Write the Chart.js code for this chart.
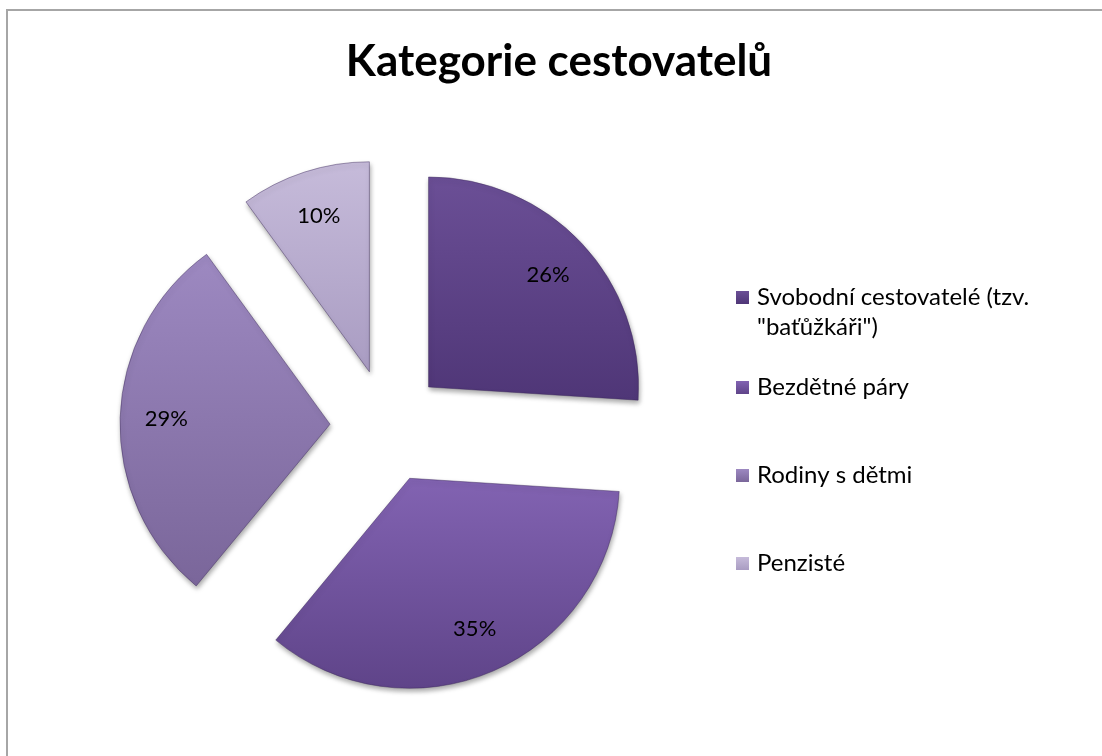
<!DOCTYPE html>
<html>
<head>
<meta charset="utf-8">
<script src="https://cdn.jsdelivr.net/npm/chart.js@4/dist/chart.umd.min.js"></script>
<style>
  html, body { margin: 0; padding: 0; background: #fff; overflow: hidden; }
  #obal { position: relative; width: 1102px; height: 756px; }
  #ramecek { position: absolute; left: 6px; top: 9px; width: 1110px; height: 760px; border: 2px solid #a6a6a6; box-sizing: border-box; }
  canvas { position: absolute; left: 0; top: 0; }
</style>
</head>
<body>
<div id="obal">
  <div id="ramecek"></div>
  <canvas id="kategorie" width="1102" height="756"></canvas>
</div>
<script>
// Kategorie cestovatelů - rozložený koláčový graf

const nadpis = "Kategorie cestovatelů";
const kategorie = ['Svobodní cestovatelé (tzv. "baťůžkáři")', "Bezdětné páry", "Rodiny s dětmi", "Penzisté"];
const podily = [26, 35, 29, 10]; // v procentech
const barvyHorni = ["#6b4f96", "#8263b2", "#9d89c1", "#c6bbda"];
const barvyDolni = ["#4f3677", "#5f4489", "#7a669a", "#a99cc2"];

const PISMO = "Lato, 'Open Sans', sans-serif";
const POLOMER = 210;
const VYSUNUTI = 57; // o kolik je každá výseč odsunutá od středu

// Geometrie výseče spočítaná z podílů (pro přechod barvy)
function vysec(chart, i) {
  const a = chart.chartArea;
  const soucet = podily.reduce((s, v) => s + v, 0);
  let start = -Math.PI / 2;
  for (let k = 0; k < i; k++) start += podily[k] / soucet * 2 * Math.PI;
  const konec = start + podily[i] / soucet * 2 * Math.PI;
  const stred = (start + konec) / 2;
  const x = (a.left + a.right) / 2 + Math.cos(stred) * VYSUNUTI;
  const y = (a.top + a.bottom) / 2 + Math.sin(stred) * VYSUNUTI;
  let minY = y, maxY = y;
  for (let t = 0; t <= 20; t++) {
    const u = start + (konec - start) * t / 20;
    minY = Math.min(minY, y + Math.sin(u) * POLOMER);
    maxY = Math.max(maxY, y + Math.sin(u) * POLOMER);
  }
  return { minY, maxY };
}

function vypln(context) {
  const chart = context.chart;
  const i = context.dataIndex;
  if (!chart.chartArea || i === undefined) return barvyHorni[i || 0];
  const { minY, maxY } = vysec(chart, i);
  const g = chart.ctx.createLinearGradient(0, minY, 0, maxY);
  g.addColorStop(0, barvyHorni[i]);
  g.addColorStop(1, barvyDolni[i]);
  return g;
}

// Odsunutí výsečí (posun středu každého oblouku po jeho ose)
const odsunuti = {
  id: "odsunuti",
  afterDatasetUpdate(chart, args) {
    args.meta.data.forEach((arc) => {
      const stred = (arc.startAngle + arc.endAngle) / 2;
      arc.x += Math.cos(stred) * VYSUNUTI;
      arc.y += Math.sin(stred) * VYSUNUTI;
    });
  },
  beforeDatasetDraw(chart) {
    const ctx = chart.ctx;
    ctx.save();
    ctx.shadowColor = "rgba(0,0,0,0.35)";
    ctx.shadowBlur = 5;
    ctx.shadowOffsetX = 1;
    ctx.shadowOffsetY = 3;
  },
  afterDatasetDraw(chart) {
    chart.ctx.restore();
  },
};

// Nadpis, popisky procent a legenda
const texty = {
  id: "texty",
  afterDraw(chart) {
    const ctx = chart.ctx;
    ctx.save();
    ctx.fillStyle = "#000";

    // nadpis
    ctx.font = "bold 44px " + PISMO;
    ctx.textAlign = "center";
    ctx.textBaseline = "middle";
    ctx.fillText(nadpis, 559, 62);

    // procenta ve výsečích
    ctx.font = "22px " + PISMO;
    chart.getDatasetMeta(0).data.forEach((arc, i) => {
      const stred = (arc.startAngle + arc.endAngle) / 2;
      const r = arc.outerRadius * 0.78;
      ctx.fillText(podily[i] + "%", arc.x + Math.cos(stred) * r, arc.y + Math.sin(stred) * r);
    });

    // legenda
    ctx.font = "24px " + PISMO;
    const radky = [297, 387, 475, 563];
    const xZnacka = 736, xText = 757, sirka = 325;
    ctx.textAlign = "left";
    kategorie.forEach((nazev, i) => {
      // zalomení textu podle šířky
      const slova = nazev.split(" ");
      const cary = [];
      let cara = "";
      slova.forEach((s) => {
        const zkus = cara ? cara + " " + s : s;
        if (ctx.measureText(zkus).width > sirka && cara) {
          cary.push(cara);
          cara = s;
        } else {
          cara = zkus;
        }
      });
      cary.push(cara);
      const y0 = radky[i];
      const g = ctx.createLinearGradient(0, y0 - 6, 0, y0 + 7);
      g.addColorStop(0, barvyHorni[i]);
      g.addColorStop(1, barvyDolni[i]);
      ctx.fillStyle = g;
      ctx.fillRect(xZnacka, y0 - 6, 13, 13);
      ctx.fillStyle = "#000";
      cary.forEach((c, k) => ctx.fillText(c, xText, y0 + k * 30));
    });
    ctx.restore();
  },
};

new Chart(document.getElementById("kategorie"), {
  type: "pie",
  data: {
    labels: kategorie,
    datasets: [
      {
        data: podily,
        backgroundColor: vypln,
        borderColor: "rgba(60,40,90,0.45)",
        borderWidth: 1,
        clip: false,
      },
    ],
  },
  options: {
    responsive: false,
    animation: false,
    events: [],
    radius: POLOMER,
    layout: { padding: { left: 0, right: 328, top: 122, bottom: 26 } },
    plugins: {
      legend: { display: false },
      title: { display: false },
      tooltip: { enabled: false },
    },
  },
  plugins: [odsunuti, texty],
});
</script>
</body>
</html>
